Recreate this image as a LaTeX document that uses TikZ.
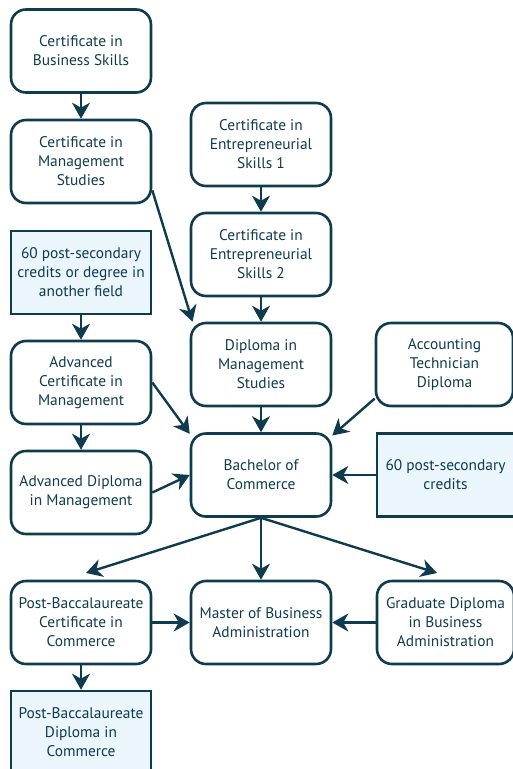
\documentclass[tikz,border=0pt]{standalone}
\usepackage{fontspec}
\setmainfont{PT Sans}
\usetikzlibrary{arrows.meta}
\definecolor{ink}{HTML}{0F3B4E}
\definecolor{pale}{HTML}{EAF5FC}
\begin{document}
\begin{tikzpicture}[x=1pt,y=-1pt]

  \useasboundingbox (0,0) rectangle (513,769);

  % node styles
  \tikzstyle{Box}=[
  draw=ink,
  line width=2.6pt,
  text=ink,
  font=\fontsize{15.4pt}{19pt}\selectfont,
  align=center,
  inner sep=0pt,
  minimum width=140pt,
  minimum height=83pt,
  shape=rectangle,rounded corners=15pt]

  \tikzstyle{Plain}=[Box,rounded corners=0pt,fill=pale]

  \tikzstyle{Arrow}=[draw=ink,line width=2.4pt,
  -{Stealth[length=16pt,width=18pt,inset=5pt]}]

  \node[Box]   (CBS)  at ( 81, 51.0) {Certificate in\\Business Skills};
  \node[Box]   (CMS)  at ( 81,161.5) {Certificate in\\Management\\Studies};
  \node[Plain] (SCD)  at ( 81,272.5) {60 post-secondary\\credits or degree in\\another field};
  \node[Box]   (ACM)  at ( 81,382.5) {Advanced\\Certificate in\\Management};
  \node[Box]   (ADM)  at ( 81,492.5) {Advanced Diploma\\in Management};
  \node[Box]   (PBC)  at ( 81,622.5) {Post-Baccalaureate\\Certificate in\\Commerce};
  \node[Plain] (PBD)  at ( 81,732.5) {Post-Baccalaureate\\Diploma in\\Commerce};

  \node[Box]   (CES1) at (261,144.5) {Certificate in\\Entrepreneurial\\Skills 1};
  \node[Box]   (CES2) at (261,254.5) {Certificate in\\Entrepreneurial\\Skills 2};
  \node[Box]   (DMS)  at (261,364.5) {Diploma in\\Management\\Studies};
  \node[Box]   (BCom) at (261,475.0) {Bachelor of\\Commerce};
  \node[Box]   (MBA)  at (261,622.5) {Master of Business\\Administration};

  \node[Box,minimum width=137pt]   (ATD)  at (444.5,364.5) {Accounting\\Technician\\Diploma};
  \node[Plain,minimum width=137pt] (SC)   at (445.5,475.0) {60 post-secondary\\credits};
  \node[Box,minimum width=137pt]   (GDBA) at (445.5,622.5) {Graduate Diploma\\in Business\\Administration};

  \coordinate (PBCin)  at ( 86,573);
  \coordinate (GDBAin) at (437,573);

  \draw[Arrow] (CBS) -- (CMS);
  \draw[Arrow] (SCD) -- (ACM);
  \draw[Arrow] (ACM) -- (ADM);
  \draw[Arrow] (PBC) -- (PBD);
  \draw[Arrow] (CES1) -- (CES2);
  \draw[Arrow] (CES2) -- (DMS);
  \draw[Arrow] (CMS.-22) -- (DMS.148);

  \draw[Arrow] (DMS) -- (BCom);
  \draw[Arrow] (ACM.east) -- (BCom.150);
  \draw[Arrow] (ADM.east) -- (BCom.west);
  \draw[Arrow] (ATD.206) -- (BCom.29);
  \draw[Arrow] (SC.west) -- (BCom.east);

  \draw[Arrow] (BCom.south) -- (PBCin);
  \draw[Arrow] (BCom.south) -- (MBA.north);
  \draw[Arrow] (BCom.south) -- (GDBAin);

  \draw[Arrow] (PBC.east) -- (MBA.west);
  \draw[Arrow] (GDBA.west) -- (MBA.east);

\end{tikzpicture}
\end{document}
